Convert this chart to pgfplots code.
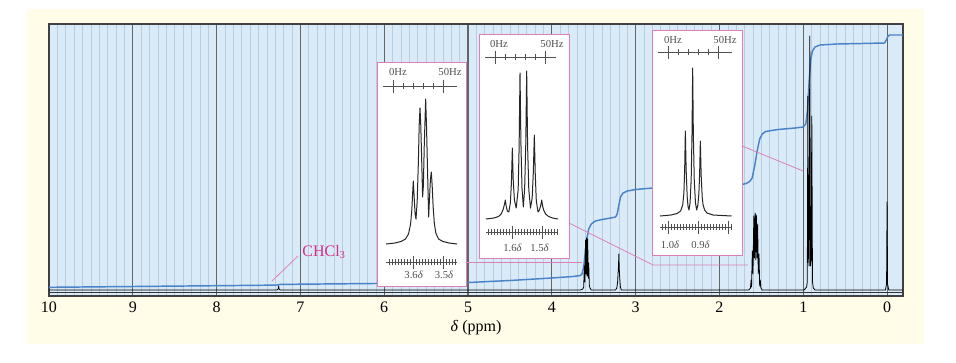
\documentclass[border=0pt]{standalone}
\usepackage{fontspec}
\setmainfont{Liberation Serif}
\usepackage{pgfplots}
\pgfplotsset{compat=1.18}
\definecolor{cream}{RGB}{255,253,231}
\definecolor{plotbg}{RGB}{217,234,248}
\definecolor{minorgrid}{RGB}{188,204,218}
\definecolor{majorgrid}{RGB}{100,100,100}
\definecolor{integ}{RGB}{74,132,200}
\definecolor{pinkl}{RGB}{222,128,184}
\definecolor{magent}{RGB}{214,46,134}
\definecolor{rulc}{RGB}{80,80,80}
\pgfplotsset{inset/.style={scale only axis, anchor=south west, x dir=reverse,
  axis background/.style={fill=white}, axis line style={draw=pinkl, line width=0.6pt},
  xtick=\empty, ytick=\empty, ymin=0, clip=false}}
\tikzset{rul/.style={rulc, line width=0.45pt},
  lab/.style={rulc, font=\fontsize{8}{9}\selectfont, inner sep=0pt}}
\begin{document}
\begin{tikzpicture}
\fill[white] (0pt,0pt) rectangle (717pt,271.5pt);
\fill[cream] (20.25pt,13.5pt) rectangle (693pt,264.75pt);
\begin{axis}[at={(36.75pt,49.5pt)}, anchor=south west, scale only axis,
  width=640.5pt, height=204pt, x dir=reverse,
  xmin=-0.19, xmax=10, ymin=0, ymax=272,
  xtick={0,1,...,10}, minor x tick num=9, ytick=\empty,
  xmajorgrids, xminorgrids,
  major grid style={majorgrid, line width=0.8pt},
  minor grid style={minorgrid, line width=0.5pt},
  major tick length=0pt, minor tick length=0pt,
  axis background/.style={fill=plotbg},
  axis line style={draw=black!75, line width=0.9pt},
  ticklabel style={font=\fontsize{12}{14}\selectfont},
  /pgf/number format/assume math mode=true,
  xticklabel style={anchor=center, yshift=-8.25pt},
  xlabel={\textit{δ} (ppm)},
  xlabel style={font=\fontsize{12}{14}\selectfont, at={(axis description cs:0.5,0)}, anchor=center, yshift=-24pt}]
\draw[black!80, line width=0.5pt] (axis cs:10,3.5) -- (axis cs:-0.19,3.5);
\addplot[integ, line width=1.1pt, line join=round] coordinates {
(10,8.7)(9,9.5)(8,10.3)(7.4,10.8)(7.28,11)(7.24,11.6)(7,11.8)(6,12.6)(5,13.5)(4.5,15.5)(4,18)(3.75,19.5)(3.66,20.5)(3.64,22)(3.62,29)(3.6,44)(3.58,58)(3.56,67)(3.53,72)(3.48,75)(3.4,76.5)(3.3,78)(3.24,79)(3.22,82)(3.2,91)(3.18,99)(3.15,103)(3.1,105)(3.0,106.5)(2.8,108)(2.4,109.5)(2.0,110.5)(1.75,111.3)(1.68,112.5)(1.64,114.5)(1.61,118)(1.58,130)(1.55,145)(1.52,157)(1.49,162)(1.45,164.5)(1.3,166.5)(1.1,168)(1.0,169)(0.97,172)(0.95,185)(0.93,215)(0.91,237)(0.89,245)(0.86,249)(0.8,251)(0.6,252)(0.3,252.5)(0.03,253)(0.01,256)(-0.01,259.5)(-0.03,261)(-0.19,261)};
\addplot[black, line width=0.6pt, line join=round] coordinates {
(10,6)(7.28,6)(7.265,7)(7.26,10)(7.255,7)(7.24,6)
(3.66,6)(3.63,7)(3.62,9)(3.612,30)(3.606,14)(3.598,56)(3.592,22)(3.585,58)(3.579,20)(3.572,57)(3.566,18)(3.56,33)(3.553,11)(3.545,8)(3.53,6)
(3.24,6)(3.225,8)(3.215,14)(3.21,22)(3.205,30)(3.2,42)(3.196,28)(3.19,18)(3.182,9)(3.17,6)
(1.65,6)(1.63,8)(1.622,16)(1.617,9)(1.608,45)(1.6,22)(1.59,80)(1.583,38)(1.574,83)(1.567,36)(1.56,81)(1.552,38)(1.544,72)(1.537,22)(1.528,42)(1.52,10)(1.513,16)(1.505,8)(1.49,6)
(0.99,6)(0.96,9)(0.952,14)(0.945,200)(0.938,40)(0.93,30)(0.922,260)(0.914,30)(0.906,35)(0.898,180)(0.89,14)(0.88,8)(0.86,6)
(0.02,6)(0.006,12)(0,94)(-0.006,12)(-0.02,6)(-0.19,6)};
\draw[pinkl, line width=0.6pt] (axis cs:7.339,15) -- (axis cs:7.029,40);
\draw[pinkl, line width=0.6pt] (axis cs:5.024,34) -- (axis cs:3.64,34);
\draw[pinkl, line width=0.6pt] (axis cs:3.795,73) -- (axis cs:2.792,31) -- (axis cs:1.659,31);
\draw[pinkl, line width=0.6pt] (axis cs:1.730,150) -- (axis cs:1.002,125);
\node[anchor=west, text=magent, font=\fontsize{12}{14}\selectfont, inner sep=0pt] at (axis cs:6.98,44) {CHCl\textsubscript{3}};
\end{axis}
% inset 1
\begin{axis}[inset, at={(282.75pt,57pt)}, width=66.75pt, height=168pt, xmin=3.42333, xmax=3.72, ymax=224]
\addplot[black!85, line width=0.75pt, line join=round] coordinates {
(3.69,42)(3.66,43)(3.64,44.5)(3.625,47)(3.615,52)(3.608,62)(3.604,76)(3.602,88)(3.599,105)(3.596,88)(3.593,72)(3.59,67)(3.586,85)(3.582,125)(3.5795,160)(3.5767,178)(3.574,160)(3.5705,120)(3.568,89)(3.5655,100)(3.5625,140)(3.5595,170)(3.5578,187)(3.555,160)(3.5515,115)(3.5478,69)(3.545,88)(3.542,106)(3.539,114)(3.536,100)(3.533,80)(3.529,63)(3.524,53)(3.515,47)(3.5,44.5)(3.48,43)(3.4533,42)};
\draw[rul] (axis cs:3.70,200) -- (axis cs:3.4533,200);
\pgfplotsinvokeforeach{3.63333,3.6,3.56667,3.53333}{\draw[rul] (axis cs:#1,197) -- (axis cs:#1,203);}
\pgfplotsinvokeforeach{3.66667,3.5}{\draw[rul] (axis cs:#1,193.5) -- (axis cs:#1,206.5);}
\node[lab] at (axis cs:3.65,214) {0Hz};
\node[lab] at (axis cs:3.4767,214) {50Hz};
\draw[rul] (axis cs:3.69,24) -- (axis cs:3.4533,24);
\pgfplotsinvokeforeach{3.46,3.47,3.48,3.49,3.51,3.52,3.53,3.54,3.55,3.56,3.57,3.58,3.59,3.61,3.62,3.63,3.64,3.65,3.66,3.67,3.68}{\draw[rul] (axis cs:#1,21) -- (axis cs:#1,27);}
\pgfplotsinvokeforeach{3.6,3.5}{\draw[rul] (axis cs:#1,17.5) -- (axis cs:#1,30.5);}
\node[lab] at (axis cs:3.5978,11) {3.6\textit{δ}};
\node[lab] at (axis cs:3.4967,11) {3.5\textit{δ}};
\end{axis}
% inset 2
\begin{axis}[inset, at={(359.25pt,78pt)}, width=67.5pt, height=168pt, xmin=1.41, xmax=1.71, ymax=224]
\addplot[black!85, line width=0.75pt, line join=round] coordinates {
(1.6867,39)(1.66,40)(1.645,41.5)(1.636,44)(1.629,49)(1.625,54)(1.6222,58)(1.6195,52)(1.6155,47)(1.6105,46)
(1.6055,55)(1.602,75)(1.5989,110)(1.596,78)(1.592,58)(1.5861,50)
(1.5795,68)(1.5763,110)(1.5733,185)(1.5703,115)(1.5667,70)(1.5622,51)
(1.5578,70)(1.554,115)(1.5511,187)(1.548,112)(1.544,68)(1.5383,50)
(1.5328,60)(1.529,85)(1.5256,123)(1.5225,84)(1.519,57)(1.5133,46)
(1.5085,48)(1.504,53)(1.501,58)(1.498,52)(1.4945,48)(1.488,44)(1.478,41.5)(1.465,40)(1.4467,39)};
\draw[rul] (axis cs:1.69,201) -- (axis cs:1.4533,201);
\pgfplotsinvokeforeach{1.62333,1.59,1.55667,1.52333}{\draw[rul] (axis cs:#1,198) -- (axis cs:#1,204);}
\pgfplotsinvokeforeach{1.65667,1.49}{\draw[rul] (axis cs:#1,194.5) -- (axis cs:#1,207.5);}
\node[lab] at (axis cs:1.6433,214) {0Hz};
\node[lab] at (axis cs:1.4667,214) {50Hz};
\draw[rul] (axis cs:1.6867,26) -- (axis cs:1.4467,26);
\pgfplotsinvokeforeach{1.45,1.46,1.47,1.48,1.49,1.51,1.52,1.53,1.54,1.55,1.56,1.57,1.58,1.59,1.61,1.62,1.63,1.64,1.65,1.66,1.67,1.68}{\draw[rul] (axis cs:#1,23) -- (axis cs:#1,29);}
\pgfplotsinvokeforeach{1.6,1.5}{\draw[rul] (axis cs:#1,19.5) -- (axis cs:#1,32.5);}
\node[lab] at (axis cs:1.5983,10) {1.6\textit{δ}};
\node[lab] at (axis cs:1.5083,10) {1.5\textit{δ}};
\end{axis}
% inset 3
\begin{axis}[inset, at={(489pt,80.25pt)}, width=67.5pt, height=168.75pt, xmin=0.75333, xmax=1.05333, ymax=225]
\addplot[black!85, line width=0.75pt, line join=round] coordinates {
(1.0267,39)(0.99,40)(0.97,41.5)(0.958,44)(0.951,50)(0.947,62)(0.9445,85)(0.9422,124)(0.9395,85)(0.936,58)(0.933,48)(0.93,45)
(0.9265,52)(0.9228,75)(0.92,120)(0.9178,187)(0.9155,120)(0.9125,75)(0.9085,52)(0.9044,45)
(0.9005,50)(0.897,62)(0.8945,82)(0.8922,114)(0.8895,80)(0.886,58)(0.883,50)(0.878,45)(0.87,42)(0.85,40)(0.82,39.5)(0.7878,39)};
\draw[rul] (axis cs:1.0333,203) -- (axis cs:0.7867,203);
\pgfplotsinvokeforeach{0.96667,0.93333,0.9,0.86667}{\draw[rul] (axis cs:#1,200) -- (axis cs:#1,206);}
\pgfplotsinvokeforeach{1.0,0.83333}{\draw[rul] (axis cs:#1,196.5) -- (axis cs:#1,209.5);}
\node[lab] at (axis cs:0.9833,215) {0Hz};
\node[lab] at (axis cs:0.81,215) {50Hz};
\draw[rul] (axis cs:1.0267,28) -- (axis cs:0.7867,28);
\pgfplotsinvokeforeach{0.79,0.81,0.82,0.83,0.84,0.85,0.86,0.87,0.88,0.89,0.91,0.92,0.93,0.94,0.95,0.96,0.97,0.98,0.99,1.01,1.02}{\draw[rul] (axis cs:#1,25) -- (axis cs:#1,31);}
\pgfplotsinvokeforeach{1.0,0.9,0.8}{\draw[rul] (axis cs:#1,21.5) -- (axis cs:#1,34.5);}
\node[lab] at (axis cs:0.9933,10) {1.0\textit{δ}};
\node[lab] at (axis cs:0.8917,10) {0.9\textit{δ}};
\end{axis}
\end{tikzpicture}
\end{document}
